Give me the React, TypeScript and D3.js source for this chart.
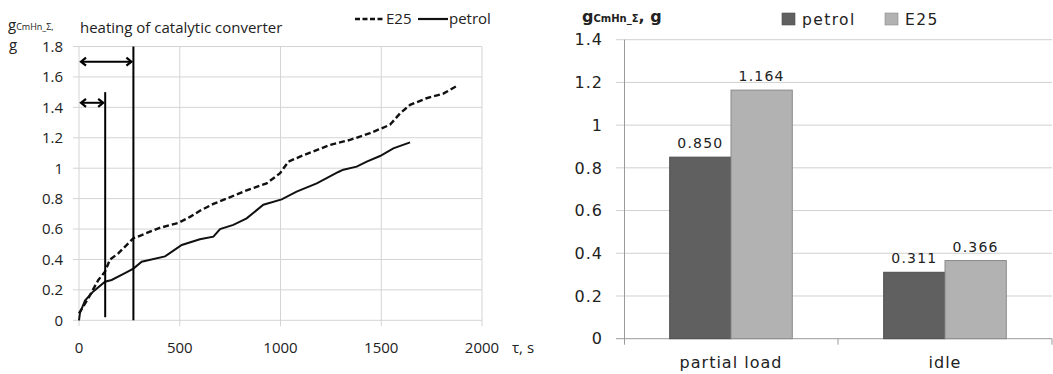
import React from 'react';
import * as d3 from 'd3';

// left chart: cumulative hydrocarbon mass vs time
const e25Time = [0, 46, 96, 129, 154, 195, 270, 311, 394, 493, 551, 600, 667, 733, 816, 931, 998, 1039, 1097, 1163, 1246, 1345, 1444, 1543, 1593, 1643, 1725, 1808, 1874];
const e25Mass = [0.045, 0.145, 0.265, 0.32, 0.4, 0.44, 0.54, 0.56, 0.605, 0.64, 0.68, 0.72, 0.765, 0.8, 0.846, 0.9, 0.967, 1.043, 1.076, 1.11, 1.153, 1.186, 1.23, 1.285, 1.36, 1.416, 1.46, 1.49, 1.54];
const petrolTime = [0, 5, 30, 71, 129, 162, 228, 270, 311, 427, 510, 600, 667, 700, 766, 832, 915, 1006, 1080, 1180, 1229, 1287, 1312, 1378, 1428, 1494, 1560, 1643];
const petrolMass = [0, 0.05, 0.13, 0.19, 0.254, 0.265, 0.31, 0.34, 0.385, 0.42, 0.495, 0.533, 0.55, 0.6, 0.627, 0.67, 0.76, 0.795, 0.846, 0.9, 0.934, 0.975, 0.99, 1.01, 1.043, 1.08, 1.13, 1.17];
const xTicks = [0, 500, 1000, 1500, 2000];
const yTicksLeft = [0, 0.2, 0.4, 0.6, 0.8, 1, 1.2, 1.4, 1.6, 1.8];
// heating markers: [time, top of line, bottom of line, arrow level]
const heatMarks = [
  [130, 1.5, 0.02, 1.43],
  [270, 1.8, 0, 1.7],
];

// right chart: totals
const categories = ['partial load', 'idle'];
const seriesNames = ['petrol', 'E25'];
const petrolVals = [0.85, 0.311];
const e25Vals = [1.164, 0.366];
const yTicksRight = [0, 0.2, 0.4, 0.6, 0.8, 1, 1.2, 1.4];

const W = 1053;
const H = 374;

const leftFont = "'Open Sans', sans-serif";
const rightFont = "'DejaVu Sans', sans-serif";

const LeftChart = () => {
  const x = d3.scaleLinear().domain([0, 2000]).range([79, 482]);
  const y = d3.scaleLinear().domain([0, 1.8]).range([320.3, 46.5]);
  const mk = d3
    .line<[number, number]>()
    .x((d) => x(d[0]))
    .y((d) => y(d[1]));
  const e25Path = mk(e25Time.map((t, i) => [t, e25Mass[i]]));
  const petrolPath = mk(petrolTime.map((t, i) => [t, petrolMass[i]]));

  return (
    <g fontFamily={leftFont} fontSize={15} fill="#222">
      {yTicksLeft.map((t) => (
        <g key={'yl' + t}>
          <line x1={73} x2={482} y1={y(t)} y2={y(t)} stroke="#d4d4d4" />
          <text x={63} y={y(t)} dy="0.36em" textAnchor="end">
            {t}
          </text>
        </g>
      ))}
      {xTicks.map((t) => (
        <g key={'xl' + t}>
          <line x1={x(t)} x2={x(t)} y1={y(1.8)} y2={y(0) + 6} stroke="#d4d4d4" />
          <text x={x(t)} y={353} textAnchor="middle">
            {t}
          </text>
        </g>
      ))}
      <text x={512} y={353}>τ, s</text>

      <path d={e25Path || ''} fill="none" stroke="#111" strokeWidth={2.4} strokeDasharray="6,3" />
      <path d={petrolPath || ''} fill="none" stroke="#111" strokeWidth={2} />

      {heatMarks.map(([t, top, bottom, lvl]) => (
        <g key={'hm' + t}>
          <line x1={x(t)} x2={x(t)} y1={y(top)} y2={y(bottom)} stroke="#000" strokeWidth={2} />
          <line x1={x(0) + 2} x2={x(t) - 2} y1={y(lvl)} y2={y(lvl)} stroke="#000" strokeWidth={2} />
          <path
            d={`M${x(0) + 7},${y(lvl) - 4} L${x(0) + 2},${y(lvl)} L${x(0) + 7},${y(lvl) + 4}`}
            fill="none"
            stroke="#000"
            strokeWidth={2.2}
          />
          <path
            d={`M${x(t) - 7},${y(lvl) - 4} L${x(t) - 2},${y(lvl)} L${x(t) - 7},${y(lvl) + 4}`}
            fill="none"
            stroke="#000"
            strokeWidth={2.2}
          />
        </g>
      ))}

      <text x={8} y={29.5}>
        g<tspan fontSize={9}>CmHn_Σ,</tspan>
      </text>
      <text x={9} y={50}>g</text>
      <text x={80} y={33}>heating of catalytic converter</text>

      <line x1={355} x2={384} y1={19} y2={19} stroke="#111" strokeWidth={2.4} strokeDasharray="5,2.5" />
      <text x={386} y={24}>E25</text>
      <line x1={418} x2={448} y1={19} y2={19} stroke="#111" strokeWidth={2.2} />
      <text x={449} y={24}>petrol</text>
    </g>
  );
};

const RightChart = () => {
  const x0 = d3.scaleBand<string>().domain(categories).range([624, 1052]);
  const y = d3.scaleLinear().domain([0, 1.4]).range([338.7, 39.7]);
  const groupW = 122.6;
  const x1 = d3.scaleBand<string>().domain(seriesNames).range([0, groupW]);
  const colors: Record<string, string> = { petrol: '#606060', E25: '#b2b2b2' };
  const strokes: Record<string, string> = { petrol: '#4d4d4d', E25: '#8a8a8a' };
  const rows = categories.map((c, i) => ({
    cat: c,
    vals: [
      { s: 'petrol', v: petrolVals[i] },
      { s: 'E25', v: e25Vals[i] },
    ],
  }));

  return (
    <g fontFamily={rightFont} fill="#222">
      {yTicksRight.map((t) => (
        <g key={'yr' + t}>
          <line x1={616} x2={1052} y1={y(t)} y2={y(t)} stroke={t === 0 ? '#9a9a9a' : '#d0d0d0'} />
          <text x={603} y={y(t)} dy="0.36em" textAnchor="end" fontSize={16} letterSpacing={1}>
            {t}
          </text>
        </g>
      ))}
      <line x1={624.5} x2={624.5} y1={y(1.4)} y2={y(0) + 6} stroke="#9a9a9a" />
      {categories.map((c) => (
        <line
          key={'tk' + c}
          x1={(x0(c) || 0) + x0.bandwidth()}
          x2={(x0(c) || 0) + x0.bandwidth()}
          y1={y(0)}
          y2={y(0) + 6}
          stroke="#9a9a9a"
        />
      ))}
      {rows.map((r) => {
        const gx = (x0(r.cat) || 0) + x0.bandwidth() / 2 - groupW / 2;
        return (
          <g key={r.cat}>
            {r.vals.map((d) => (
              <g key={d.s}>
                <rect
                  x={gx + (x1(d.s) || 0)}
                  y={y(d.v)}
                  width={x1.bandwidth()}
                  height={y(0) - y(d.v)}
                  fill={colors[d.s]}
                  stroke={strokes[d.s]}
                />
                <text
                  x={gx + (x1(d.s) || 0) + x1.bandwidth() / 2}
                  y={y(d.v) - 9}
                  textAnchor="middle"
                  fontSize={14}
                  letterSpacing={1.2}
                >
                  {d.v.toFixed(3)}
                </text>
              </g>
            ))}
            <text
              x={(x0(r.cat) || 0) + x0.bandwidth() / 2}
              y={368}
              textAnchor="middle"
              fontSize={16}
              letterSpacing={1}
            >
              {r.cat}
            </text>
          </g>
        );
      })}

      <text x={582} y={22} fontWeight="bold" fontSize={16}>
        g<tspan fontSize={10}>CmHn_Σ</tspan>
        <tspan fontSize={16}>, g</tspan>
      </text>

      {seriesNames.map((s, i) => (
        <g key={'lg' + s} transform={`translate(${i === 0 ? 782 : 885},13)`}>
          <rect width={13} height={12} fill={colors[s]} stroke={strokes[s]} strokeWidth={0.6} />
          <text x={20} y={12} fontSize={15.5} letterSpacing={1.4}>
            {s}
          </text>
        </g>
      ))}
    </g>
  );
};

export default function App() {
  return (
    <svg
      width={W}
      height={H}
      viewBox={`0 0 ${W} ${H}`}
      style={{ position: 'absolute', left: 0, top: 0, background: '#fff' }}
    >
      <rect width={W} height={H} fill="#fff" />
      <LeftChart />
      <RightChart />
    </svg>
  );
}
